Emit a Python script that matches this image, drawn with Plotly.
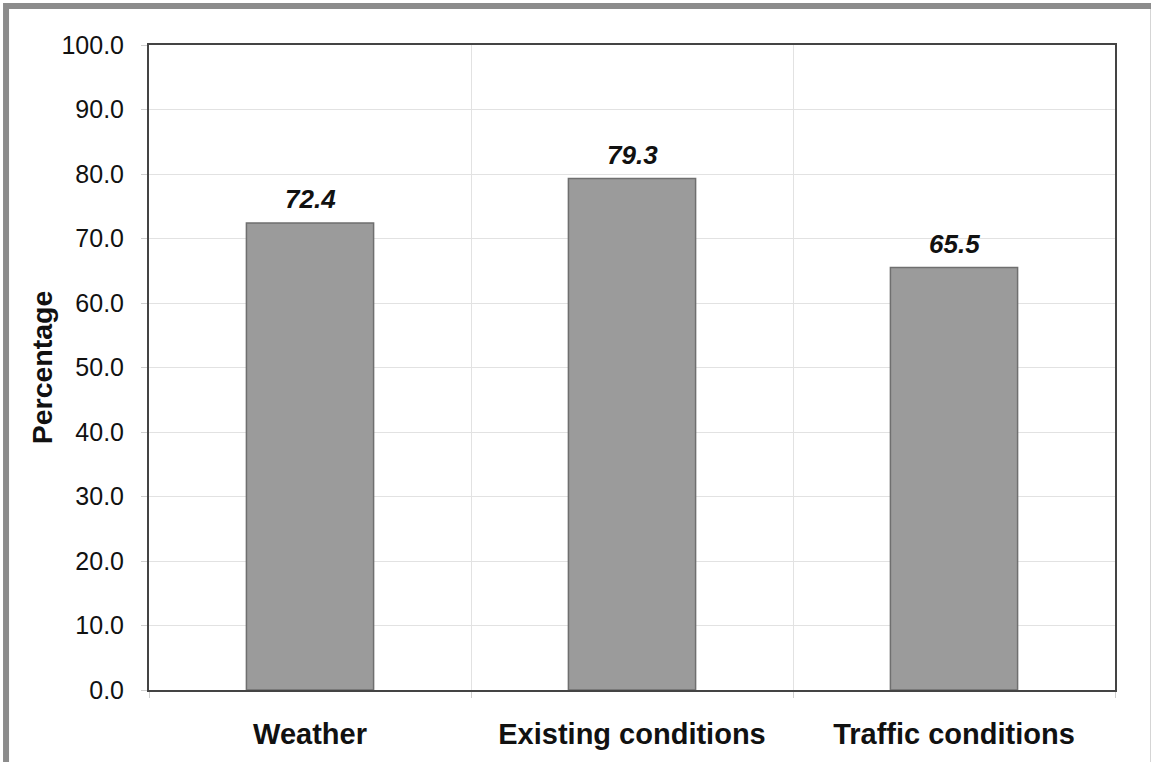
import plotly.graph_objects as go

# chart data
categories = ['Weather', 'Existing conditions', 'Traffic conditions']
percentages = [72.4, 79.3, 65.5]
y_ticks = [0, 10, 20, 30, 40, 50, 60, 70, 80, 90, 100]

FONT = 'Liberation Sans, Arial, Helvetica, sans-serif'

fig = go.Figure()

fig.add_trace(go.Bar(
    x=categories,
    y=percentages,
    width=0.395,
    marker=dict(color='#9b9b9b', line=dict(color='#6f6f6f', width=1.5)),
    hoverinfo='x+y',
    showlegend=False,
))

# value labels above bars (bold italic)
for cat, val in zip(categories, percentages):
    fig.add_annotation(
        x=cat, y=val, text=f'{val:.1f}',
        showarrow=False, yanchor='bottom', yshift=7,
        font=dict(family=FONT, size=26, color='#111', weight='bold', style='italic'),
    )

# outer gray frame around the whole picture
fig.add_shape(
    type='rect', xref='paper', yref='paper',
    x0=-0.148, x1=1.04, y0=-0.25, y1=1.0605,
    line=dict(color='#8c8c8c', width=6), layer='below',
)

fig.update_layout(
    width=1151,
    height=762,
    margin=dict(l=149, r=36, t=45, b=72),
    paper_bgcolor='white',
    plot_bgcolor='white',
    font=dict(family=FONT, color='#111'),
    xaxis=dict(
        type='category',
        tickson='boundaries',
        showgrid=True,
        gridcolor='#e2e2e2',
        gridwidth=1,
        ticks='outside',
        ticklen=6,
        tickcolor='#cfcfcf',
        showline=True,
        linecolor='#444',
        linewidth=2,
        mirror=True,
        tickfont=dict(family=FONT, size=29, color='#111', weight='bold'),
        ticklabelstandoff=17,
        range=[-0.5, 2.5],
    ),
    yaxis=dict(
        range=[0, 100],
        tickvals=y_ticks,
        tickformat='.1f',
        showgrid=True,
        gridcolor='#e2e2e2',
        gridwidth=1,
        zeroline=False,
        ticks='outside',
        ticklen=6,
        tickcolor='#cfcfcf',
        showline=True,
        linecolor='#444',
        linewidth=2,
        mirror=True,
        tickfont=dict(family=FONT, size=25, color='#111'),
        ticklabelstandoff=12,
        title=dict(text='Percentage', standoff=0,
                   font=dict(family=FONT, size=28.5, color='#111', weight='bold')),
    ),
)

fig.write_html('out.html', config={'displayModeBar': False},
               post_script="document.body.style.margin='0';")
